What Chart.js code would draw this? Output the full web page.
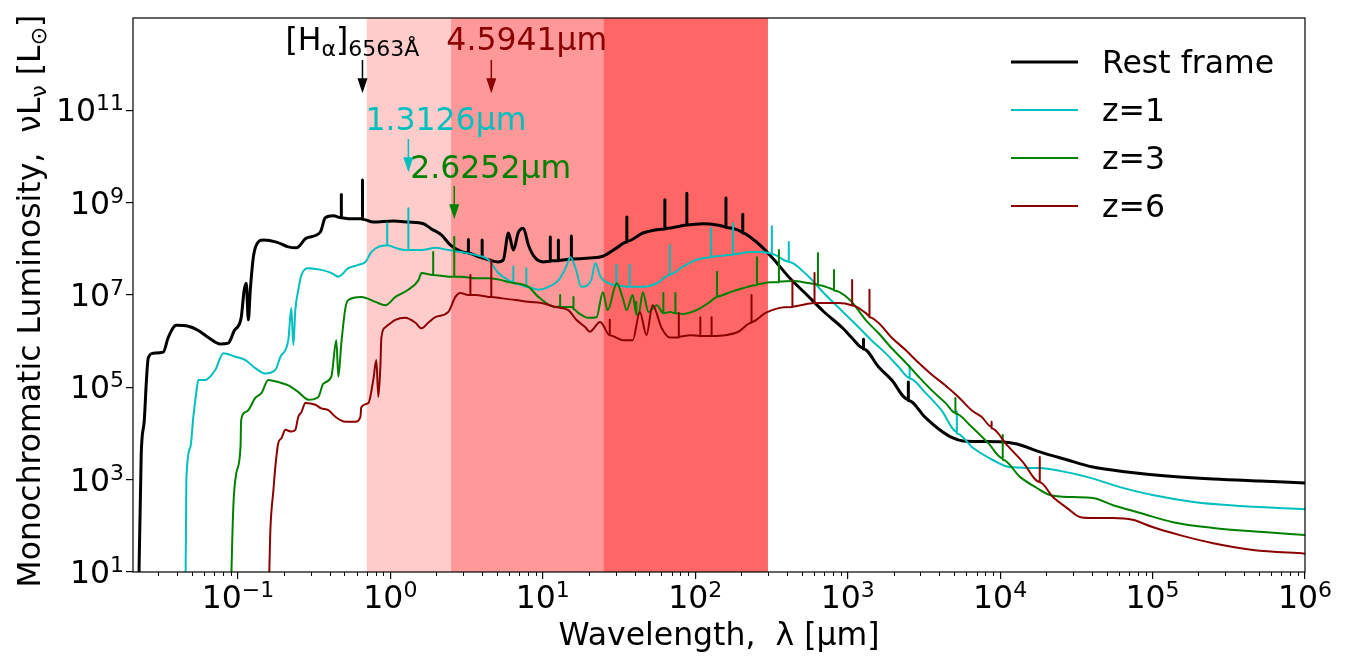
<!DOCTYPE html>
<html>
<head>
<meta charset="utf-8">
<script src="https://cdn.jsdelivr.net/npm/chart.js@4/dist/chart.umd.min.js"></script>
<style>
  html, body { margin: 0; padding: 0; background: #fff; }
  #wrap { width: 1347px; height: 662px; position: relative; }
</style>
</head>
<body>
<div id="wrap"><canvas id="sed"></canvas></div>
<script>
// SEDs: [wavelength in um, nuL_nu in Lsun]; three points at the same wavelength = an emission line
const restFrame = [
  [0.0222,1],[0.0232,3.4e3],[0.0243,1.9e4],[0.0251,1.4e5],[0.0258,4.3e5],[0.0279,5.5e5],[0.0324,5.8e5],
  [0.0349,1.2e6],[0.0394,2.2e6],[0.0473,2.1e6],[0.055,1.7e6],[0.064,1.2e6],[0.0767,8.7e5],[0.0865,9.1e5],
  [0.0947,1.7e6],[0.105,3.2e6],[0.110,1.3e7],[0.1135,1.8e7],[0.117,2.9e6],[0.1206,1.3e7],[0.126,6.3e7],
  [0.132,1.2e8],[0.147,1.55e8],[0.179,1.4e8],[0.214,1.1e8],[0.242,1.05e8],[0.281,1.7e8],[0.347,2.3e8],
  [0.374,4.7e8],[0.423,5.2e8],
  [0.477,4.7e8],[0.477,1.5e9],[0.477,4.7e8],
  [0.53,4.5e8],
  [0.6563,4.5e8],[0.6563,3.1e9],[0.6563,4.4e8],
  [0.773,3.8e8],[1.05,4.0e8],[1.31,3.8e8],[1.65,3.5e8],[1.86,2.7e8],[2.16,2.0e8],[2.48,1.2e8],[2.88,8.9e7],
  [3.25,8.2e7],[3.25,1.6e8],[3.25,8.0e7],
  [4.0,6.5e7],[4.0,1.55e8],[4.0,6.3e7],
  [4.4,5.8e7],[5.1,5.2e7],[5.51,5.8e7],[5.95,2.2e8],[6.41,9.4e7],[6.92,2.3e8],[7.46,2.8e8],[8.05,1.2e8],
  [8.94,6.3e7],[10.1,5.2e7],
  [11.2,5.4e7],[11.2,1.8e8],[11.2,5.5e7],
  [12.65,5.5e7],[12.65,1.55e8],[12.65,5.6e7],
  [15.4,6.0e7],[15.4,1.9e8],[15.4,6.0e7],
  [20.3,6.3e7],[24.8,6.9e7],[30.6,1.05e8],
  [35.6,1.4e8],[35.6,4.9e8],[35.6,1.45e8],
  [45.3,2.2e8],[56.0,2.6e8],
  [63.2,2.7e8],[63.2,1.15e9],[63.2,2.75e8],
  [75.7,3.0e8],
  [88.1,3.3e8],[88.1,1.6e9],[88.1,3.3e8],
  [112,3.5e8],[139,3.3e8],
  [159,3.0e8],[159,1.26e9],[159,2.9e8],
  [188,2.6e8],
  [205,2.3e8],[205,5.6e8],[205,2.2e8],
  [229,1.8e8],[278,1.05e8],[344,4.9e7],[418,2.3e7],[541,1.0e7],[689,4.5e6],[931,1.9e6],[1060,1.2e6],
  [1270,7.0e5],[1270,1.1e6],[1270,6.8e5],
  [1590,2.8e5],[1940,1.45e5],
  [2500,5.4e4],[2500,1.3e5],[2500,5.2e4],
  [3240,2.2e4],[4030,1.19e4],[4900,8.0e3],[5700,6.9e3],[9980,6.6e3],[1.29e4,5.9e3],[1.82e4,4.0e3],
  [2.74e4,2.7e3],[4.06e4,1.88e3],[6.8e4,1.47e3],[1.24e5,1.2e3],[2.5e5,1.03e3],[5.07e5,930],[1e6,850]
];

const zOne = [
  [0.0452,1],[0.0459,1e3],[0.0488,5.1e3],[0.051,2.3e4],[0.0533,7.6e4],[0.055,1.45e5],[0.0611,1.45e5],
  [0.0711,2.4e5],[0.0802,5.5e5],[0.0962,4.6e5],[0.112,3.9e5],[0.130,2.6e5],[0.151,2.0e5],[0.176,2.4e5],
  [0.190,4.6e5],[0.214,1.05e6],[0.224,5.2e6],[0.231,8.3e5],[0.238,4.7e6],[0.249,1.3e7],[0.261,2.7e7],
  [0.290,3.8e7],[0.352,3.5e7],[0.410,3.0e7],[0.456,2.5e7],[0.530,3.8e7],[0.617,4.5e7],[0.686,5.2e7],
  [0.750,8.5e7],[0.834,1.1e8],
  [0.954,1.2e8],[0.954,3.6e8],[0.954,1.2e8],
  [1.08,1.05e8],[1.27,9.4e7],
  [1.3126,9.4e7],[1.3126,7.6e8],[1.3126,9.4e7],
  [1.60,9.4e7],[1.97,1.05e8],[2.40,9.4e7],[2.92,8.5e7],[3.61,7.4e7],[4.40,5.8e7],[5.11,3.0e7],[5.95,2.1e7],
  [6.41,1.9e7],[6.41,4.1e7],[6.41,1.8e7],
  [7.24,1.65e7],
  [7.8,1.5e7],[7.8,3.8e7],[7.8,1.5e7],
  [9.35,1.3e7],[10.9,1.5e7],[12.7,2.1e7],[14.1,3.8e7],[15.2,6.6e7],[16.4,3.8e7],[17.9,1.5e7],[20.8,2.1e7],
  [22.1,4.9e7],[23.9,2.5e7],[26.9,1.8e7],
  [30.4,1.65e7],[30.4,4.5e7],[30.4,1.6e7],
  [37.2,1.5e7],[37.2,4.5e7],[37.2,1.5e7],
  [45.3,1.5e7],[56.0,1.8e7],
  [68.1,2.7e7],[68.1,1.2e8],[68.1,2.8e7],
  [83.0,4.1e7],[102,5.8e7],
  [127,6.6e7],[127,2.8e8],[127,6.8e7],
  [177,7.4e7],[177,3.6e8],[177,7.6e7],
  [229,8.5e7],[278,8.5e7],
  [318,7.9e7],[318,3.1e8],[318,7.7e7],
  [411,5.3e7],[411,1.4e8],[411,5.2e7],
  [541,2.7e7],[689,1.15e7],[931,4.3e6],[1180,2.0e6],[1430,1.05e6],[1770,5.5e5],[2150,2.8e5],
  [2550,1.6e5],[2550,2.9e5],[2550,1.55e5],
  [3240,7.6e4],[4120,3.2e4],
  [5200,1.1e4],[5200,3.0e4],[5200,1.0e4],
  [6620,4.9e3],[8900,2.7e3],[1.15e4,1.88e3],[1.82e4,1.78e3],[2.47e4,1.55e3],[3.71e4,1.15e3],[6.1e4,690],
  [1.0e5,465],[1.85e5,330],[3.75e5,270],[1e6,230]
];

const zThree = [
  [0.0891,1],[0.0933,260],[0.0977,1.4e3],[0.104,5.1e3],[0.105,1.95e4],[0.112,2.9e4],[0.117,3.2e4],
  [0.130,5.9e4],[0.143,7.6e4],[0.158,1.45e5],[0.184,1.3e5],[0.214,1.1e5],[0.249,7.9e4],[0.290,5.4e4],
  [0.337,6.2e4],[0.363,1.2e5],[0.410,1.7e5],[0.442,1.05e6],[0.456,1.7e5],[0.477,9.1e5],[0.507,5.2e6],
  [0.530,7.8e6],[0.645,9.1e6],[0.798,7.1e6],[0.927,6.0e6],[1.08,9.1e6],[1.31,1.3e7],[1.53,2.1e7],[1.60,3.0e7],
  [1.91,2.7e7],[1.91,8.5e7],[1.91,2.7e7],
  [2.40,2.5e7],
  [2.6252,2.5e7],[2.6252,1.8e8],[2.6252,2.5e7],
  [2.92,2.5e7],[3.61,2.3e7],[4.40,2.3e7],[5.35,2.1e7],[5.95,1.9e7],[8.05,1.5e7],[9.35,9.1e6],[12.1,5.5e6],
  [13.0,5.7e6],[13.0,1.0e7],[13.0,5.6e6],
  [15.4,5.5e6],
  [15.9,5.3e6],[15.9,9.1e6],[15.9,5.0e6],
  [17.1,4.1e6],[19.9,3.2e6],[22.5,3.3e6],[24.8,1.15e7],[26.6,4.7e6],[30.6,1.8e7],[33.5,8.5e6],[35.5,4.7e6],
  [38.9,1.0e7],
  [41.1,3.8e6],[41.1,7.1e6],[41.1,3.8e6],
  [42.4,3.7e6],[45.3,1.15e7],[49.3,4.3e6],[56.0,6.0e6],
  [61.8,4.0e6],[61.8,1.1e7],[61.8,4.0e6],
  [68.1,4.3e6],
  [74.1,4.0e6],[74.1,1.1e7],[74.1,4.0e6],
  [83.0,3.9e6],[102,4.7e6],[125,7.1e6],
  [139,9.1e6],[139,3.2e7],[139,9.3e6],
  [169,1.15e7],[205,1.4e7],
  [254,1.65e7],[254,6.6e7],[254,1.7e7],
  [309,1.9e7],
  [354,1.9e7],[354,9.4e7],[354,1.95e7],
  [437,2.0e7],[565,1.8e7],
  [638,1.7e7],[638,8.1e7],[638,1.65e7],
  [765,1.4e7],
  [813,1.3e7],[813,3.5e7],[813,1.25e7],
  [1035,7.8e6],[1310,2.9e6],[1590,1.5e6],[1940,7.1e5],[2390,3.5e5],[2920,1.7e5],[3550,8.7e4],[4380,4.6e4],
  [5090,2.8e4],[5090,5.9e4],[5090,2.7e4],
  [6490,1.4e4],[8390,6.1e3],
  [1.04e4,2.9e3],[1.04e4,9.3e3],[1.04e4,2.7e3],
  [1.35e4,1.15e3],[1.74e4,660],[2.12e4,465],[3.0e4,420],[4.06e4,400],[5.5e4,280],[8.3e4,190],[1.36e5,120],
  [2.5e5,90],[5.07e5,74],[1e6,63]
];

const zSix = [
  [0.158,1],[0.163,70],[0.171,600],[0.176,1.9e3],[0.184,6.2e3],[0.193,7.9e3],[0.205,1.2e4],[0.224,1.1e4],
  [0.238,1.2e4],[0.249,2.3e4],[0.261,2.9e4],[0.277,4.6e4],[0.322,4.2e4],[0.352,3.5e4],[0.392,3.2e4],
  [0.436,2.3e4],[0.507,1.8e4],[0.589,1.8e4],[0.636,2.3e4],[0.645,3.7e4],[0.718,4.6e4],[0.773,1.45e5],
  [0.809,3.9e5],[0.834,6.2e4],[0.860,2.8e5],[0.873,1.2e6],[0.927,2.0e6],[1.08,2.9e6],[1.25,3.2e6],
  [1.46,2.5e6],[1.60,1.9e6],[1.77,2.5e6],[1.97,3.3e6],[2.40,4.3e6],[2.67,9.1e6],[2.88,1.1e7],[3.25,1.0e7],
  [3.35,1.0e7],[3.35,2.7e7],[3.35,1.0e7],
  [3.61,1.0e7],[4.40,9.1e6],
  [4.5941,9.0e6],[4.5941,5.8e7],[4.5941,9.0e6],
  [5.35,8.5e6],[6.61,7.8e6],[8.05,7.1e6],[9.79,6.7e6],[12.1,5.5e6],[14.7,4.7e6],[16.6,2.9e6],[19.0,2.0e6],
  [20.3,1.6e6],[23.8,2.6e6],
  [27.5,1.35e6],[27.5,2.9e6],[27.5,1.35e6],
  [33.5,1.05e6],[38.9,1.05e6],[43.3,4.3e6],[47.9,1.35e6],[52.5,6.0e6],[60.3,1.9e6],[68.1,1.2e6],
  [78.0,1.2e6],[78.0,4.1e6],[78.0,1.25e6],
  [92.2,1.35e6],
  [108,1.3e6],[108,3.3e6],[108,1.3e6],
  [128,1.3e6],[128,3.3e6],[128,1.3e6],
  [158,1.35e6],[192,1.6e6],
  [234,2.5e6],[234,1.0e7],[234,2.6e6],
  [289,4.1e6],[352,5.2e6],
  [434,5.5e6],[434,2.1e7],[434,5.6e6],
  [528,6.3e6],
  [606,6.7e6],[606,3.0e7],[606,6.7e6],
  [715,6.7e6],[871,6.7e6],[1060,6.0e6],
  [1070,5.9e6],[1070,2.1e7],[1070,5.9e6],
  [1310,4.1e6],
  [1390,3.5e6],[1390,1.3e7],[1390,3.3e6],
  [1590,2.5e6],[1940,1.2e6],[2390,6.5e5],[2920,3.4e5],[3550,1.9e5],[4380,1.1e5],[5330,6.2e4],[6490,3.2e4],
  [7550,2.3e4],
  [8790,1.4e4],[8790,1.8e4],[8790,1.3e4],
  [1.11e4,5.6e3],[1.41e4,2.4e3],
  [1.82e4,890],[1.82e4,3.1e3],[1.82e4,880],
  [2.22e4,420],[2.74e4,245],[3.34e4,155],[3.88e4,148],[5.5e4,148],[7.4e4,135],[1.0e5,94],[1.51e5,63],
  [2.5e5,42],[4.56e5,30],[1e6,25]
];

const seriesNames = ['Rest frame', 'z=1', 'z=3', 'z=6'];
const seriesData = [restFrame, zOne, zThree, zSix];
const seriesColors = ['#000000', '#00bfbf', '#008000', '#8b0000'];
const seriesWidths = [3, 2, 2, 2];

const xTicks = [0.1, 1, 10, 100, 1e3, 1e4, 1e5, 1e6];
const yTicks = [1e1, 1e3, 1e5, 1e7, 1e9, 1e11];

// shaded wavelength bands
const bandEdges = [0.7, 2.5, 25, 300];
const bandAlpha = [0.2, 0.4, 0.6];

// H-alpha marker at each redshift; parts: [text, 0 normal / 1 subscript]
const markers = [
  { at: 0.6563, from: 1.23e12, to: 2.34e11, color: '#000000', textX: 0.205, textY: 2.0e12,
    parts: [['[H', 0], ['α', 1], [']', 0], ['6563Å', 1]] },
  { at: 4.5941, from: 1.23e12, to: 2.34e11, color: '#8b0000', textX: 2.33, textY: 2.0e12,
    parts: [['4.5941μm', 0]] },
  { at: 1.3126, from: 2.4e10, to: 4.57e9, color: '#00bfbf', textX: 0.686, textY: 3.7e10,
    parts: [['1.3126μm', 0]] },
  { at: 2.6252, from: 2.3e9, to: 4.4e8, color: '#008000', textX: 1.35, textY: 3.4e9,
    parts: [['2.6252μm', 0]] }
];

const FONT = '"DejaVu Sans", sans-serif';
const BIG = 31.5, SMALL = 22;

function richWidth(ctx, parts) {
  let w = 0;
  for (const [t, k] of parts) {
    ctx.font = (k ? SMALL : BIG) + 'px ' + FONT;
    w += ctx.measureText(t).width;
  }
  return w;
}

function drawRich(ctx, parts, x, y) {
  for (const [t, k] of parts) {
    ctx.font = (k ? SMALL : BIG) + 'px ' + FONT;
    ctx.fillText(t, x, y + (k === 1 ? 6 : k === 2 ? -11 : 0));
    x += ctx.measureText(t).width;
  }
}

function powerParts(v) {
  const e = Math.round(Math.log10(v));
  return [['10', 0], [(e < 0 ? '\u2212' : '') + Math.abs(e), 2]];
}

const decor = {
  id: 'decor',
  beforeDatasetsDraw(chart) {
    const { ctx, chartArea: a, scales: { x } } = chart;
    ctx.save();
    for (let i = 0; i < bandAlpha.length; i++) {
      const x0 = x.getPixelForValue(bandEdges[i]);
      const x1 = x.getPixelForValue(bandEdges[i + 1]);
      ctx.fillStyle = 'rgba(255,0,0,' + bandAlpha[i] + ')';
      ctx.fillRect(x0, a.top, x1 - x0, a.bottom - a.top);
    }
    ctx.restore();
  },
  afterDraw(chart) {
    const { ctx, chartArea: a, scales: { x, y } } = chart;
    ctx.save();

    // frame
    ctx.strokeStyle = '#000';
    ctx.lineWidth = 1.2;
    ctx.strokeRect(a.left, a.top, a.right - a.left, a.bottom - a.top);

    // minor x ticks
    ctx.lineWidth = 1;
    ctx.beginPath();
    for (let e = -2; e < 6; e++) {
      for (let k = 2; k < 10; k++) {
        const v = k * Math.pow(10, e);
        if (v < x.min || v > x.max) continue;
        const px = Math.round(x.getPixelForValue(v)) + 0.5;
        ctx.moveTo(px, a.bottom);
        ctx.lineTo(px, a.bottom + 4);
      }
    }
    ctx.stroke();

    // tick labels
    ctx.fillStyle = '#000';
    ctx.textBaseline = 'alphabetic';
    x.ticks.forEach(t => {
      const p = powerParts(t.value);
      drawRich(ctx, p, x.getPixelForValue(t.value) - richWidth(ctx, p) / 2, a.bottom + 36);
    });
    y.ticks.forEach(t => {
      const p = powerParts(t.value);
      drawRich(ctx, p, a.left - 9 - richWidth(ctx, p), y.getPixelForValue(t.value) + 11);
    });

    // axis titles
    const xt = [['Wavelength,  λ [μm]', 0]];
    drawRich(ctx, xt, (a.left + a.right) / 2 - richWidth(ctx, xt) / 2, a.bottom + 73);
    const yt = [['Monochromatic Luminosity,  νL', 0], ['ν', 1], [' [L', 0], ['⊙', 1], [']', 0]];
    ctx.save();
    ctx.translate(40, (a.top + a.bottom) / 2 + 6);
    ctx.rotate(-Math.PI / 2);
    drawRich(ctx, yt, -richWidth(ctx, yt) / 2, 0);
    ctx.restore();

    // H-alpha markers
    for (const m of markers) {
      const px = x.getPixelForValue(m.at);
      const y0 = y.getPixelForValue(m.from);
      const y1 = y.getPixelForValue(m.to);
      ctx.strokeStyle = m.color;
      ctx.fillStyle = m.color;
      ctx.lineWidth = 1.5;
      ctx.beginPath();
      ctx.moveTo(px, y0);
      ctx.lineTo(px, y1 - 14);
      ctx.stroke();
      ctx.beginPath();
      ctx.moveTo(px - 5, y1 - 15);
      ctx.lineTo(px + 5, y1 - 15);
      ctx.lineTo(px, y1);
      ctx.closePath();
      ctx.fill();
      drawRich(ctx, m.parts, x.getPixelForValue(m.textX), y.getPixelForValue(m.textY));
    }

    // legend
    chart.data.datasets.forEach((d, i) => {
      const cy = a.top + 44 + i * 48;
      ctx.strokeStyle = d.borderColor;
      ctx.lineWidth = d.borderWidth;
      ctx.beginPath();
      ctx.moveTo(a.right - 294, cy);
      ctx.lineTo(a.right - 227, cy);
      ctx.stroke();
      ctx.fillStyle = '#000';
      drawRich(ctx, [[d.label, 0]], a.right - 203, cy + 11);
    });

    ctx.restore();
  }
};

new Chart(document.getElementById('sed'), {
  type: 'line',
  data: {
    datasets: seriesData.map((pts, i) => ({
      label: seriesNames[i],
      data: pts.map(([wl, lum]) => ({ x: wl, y: lum })),
      borderColor: seriesColors[i],
      borderWidth: seriesWidths[i],
      pointRadius: 0,
      fill: false,
      cubicInterpolationMode: 'monotone',
      order: seriesData.length - i
    }))
  },
  options: {
    responsive: true,
    maintainAspectRatio: false,
    animation: false,
    layout: { padding: { top: 18, right: 42, left: 0, bottom: 0 } },
    plugins: { legend: { display: false }, tooltip: { enabled: false } },
    elements: { line: { borderJoinStyle: 'round' } },
    scales: {
      x: {
        type: 'logarithmic', min: 0.0205, max: 1e6, bounds: 'data',
        afterBuildTicks: s => { s.ticks = xTicks.map(v => ({ value: v })); },
        afterFit: s => { s.height = 90; },
        ticks: { display: false },
        grid: { drawOnChartArea: false, drawTicks: true, tickLength: 7, color: '#000', lineWidth: 1.2 },
        border: { display: false }
      },
      y: {
        type: 'logarithmic', min: 10, max: 1e13, bounds: 'data',
        afterBuildTicks: s => { s.ticks = yTicks.map(v => ({ value: v })); },
        afterFit: s => { s.width = 133; },
        ticks: { display: false },
        grid: { drawOnChartArea: false, drawTicks: true, tickLength: 7, color: '#000', lineWidth: 1.2 },
        border: { display: false }
      }
    }
  },
  plugins: [decor]
});
</script>
</body>
</html>
